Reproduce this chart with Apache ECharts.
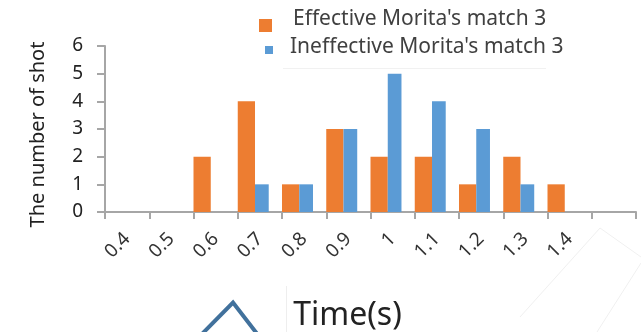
<!DOCTYPE html>
<html>
<head>
<meta charset="utf-8">
<style>
  html, body { margin: 0; padding: 0; background: #fff; }
  #chart { width: 641px; height: 332px; }
</style>
<script src="https://cdn.jsdelivr.net/npm/echarts@6/dist/echarts.min.js"></script>
</head>
<body>
<div id="chart"></div>
<script>
// Shot timing histogram, match 3
const categories = ['0.4', '0.5', '0.6', '0.7', '0.8', '0.9', '1', '1.1', '1.2', '1.3', '1.4', ''];
const effective = [0, 0, 2, 4, 1, 3, 2, 2, 1, 2, 1, null];
const ineffective = [0, 0, 0, 1, 1, 3, 5, 4, 3, 1, 0, null];
const yTicks = [0, 1, 2, 3, 4, 5, 6];
const seriesNames = ["Effective Morita's match 3", "Ineffective Morita's match 3"];

const FONT = 'Noto Sans';
// legend swatches sit a little below the text line; the zero-length
// segment at the origin stretches the icon box upwards
const ICON_BIG = 'path://M0,0L0,0ZM0,12L13,12L13,25L0,25Z';
const ICON_SMALL = 'path://M0,0L0,0ZM0,6L8,6L8,14L0,14Z';

const chart = echarts.init(document.getElementById('chart'), null, { renderer: 'canvas' });

chart.setOption({
  animation: false,
  backgroundColor: '#ffffff',
  textStyle: { fontFamily: FONT },
  grid: { left: 105, right: 5, top: 46, bottom: 120, containLabel: false, outerBoundsMode: 'none' },
  legend: [
    {
      data: [seriesNames[0]],
      left: 259, top: 7, padding: 0,
      icon: ICON_BIG, itemWidth: 13, itemHeight: 25, itemGap: 10,
      textStyle: { fontFamily: FONT, fontSize: 21, color: '#404040', padding: [0, 0, 0, 16] }
    },
    {
      data: [seriesNames[1]],
      left: 265, top: 36.5, padding: 0,
      icon: ICON_SMALL, itemWidth: 8, itemHeight: 14, itemGap: 10,
      textStyle: { fontFamily: FONT, fontSize: 21, color: '#404040', padding: [0, 0, 0, 12] }
    }
  ],
  xAxis: {
    type: 'category',
    data: categories,
    boundaryGap: true,
    name: 'Time(s)',
    nameLocation: 'middle',
    nameGap: 88,
    nameTextStyle: { fontFamily: FONT, fontSize: 32, color: '#222', padding: [0, 46, 0, 0] },
    axisLine: { lineStyle: { color: '#a6a6a6', width: 2 } },
    axisTick: { show: true, length: 7, lineStyle: { color: '#a6a6a6', width: 2 } },
    axisLabel: { rotate: 45, margin: 24, fontFamily: FONT, fontSize: 19, color: '#333', interval: 0 }
  },
  yAxis: {
    type: 'value',
    min: 0, max: 6, interval: 1,
    name: 'The number of shot',
    nameLocation: 'middle',
    nameRotate: 90,
    nameGap: 57,
    nameTextStyle: { fontFamily: FONT, fontSize: 20, color: '#222', padding: [0, 11, 0, 0] },
    axisLine: { show: true, lineStyle: { color: '#a6a6a6', width: 2 } },
    axisTick: { show: true, length: 8, lineStyle: { color: '#a6a6a6', width: 2 } },
    splitLine: { show: false },
    axisLabel: {
      margin: 22, fontFamily: FONT, fontSize: 19, color: '#222',
      formatter: v => (yTicks.indexOf(v) >= 0 ? String(v) : '')
    }
  },
  series: [
    {
      name: seriesNames[0], type: 'bar', data: effective,
      barWidth: '39%', barGap: '0%',
      itemStyle: { color: '#ED7D31' }
    },
    {
      name: seriesNames[1], type: 'bar', data: ineffective,
      barWidth: '31%', barGap: '0%',
      itemStyle: { color: '#5B9BD5' }
    },
    {
      // empty spacer keeps the bar pair at the left of each band
      name: 'spacer', type: 'bar', data: categories.map(() => null),
      barWidth: '30%', barGap: '0%', silent: true,
      itemStyle: { color: 'transparent' }
    }
  ],
  graphic: [
    { type: 'line', shape: { x1: 283, y1: 68.5, x2: 546, y2: 68.5 }, style: { stroke: '#f1f1f1', lineWidth: 1 }, silent: true },
    { type: 'line', shape: { x1: 286.5, y1: 286, x2: 286.5, y2: 332 }, style: { stroke: '#eeeeee', lineWidth: 1 }, silent: true },
    { type: 'polyline', shape: { points: [[600, 228], [641, 257]] }, style: { stroke: '#f0f0f0', lineWidth: 1 }, silent: true },
    { type: 'polyline', shape: { points: [[600, 228], [520, 317]] }, style: { stroke: '#f0f0f0', lineWidth: 1 }, silent: true },
    { type: 'polyline', shape: { points: [[641, 263], [597, 332]] }, style: { stroke: '#f0f0f0', lineWidth: 1 }, silent: true },
    {
      type: 'polyline',
      shape: { points: [[201, 335], [233, 302.5], [258, 335]] },
      style: { stroke: '#41719C', lineWidth: 4, fill: null, lineJoin: 'miter' },
      silent: true
    }
  ]
});
</script>
</body>
</html>
